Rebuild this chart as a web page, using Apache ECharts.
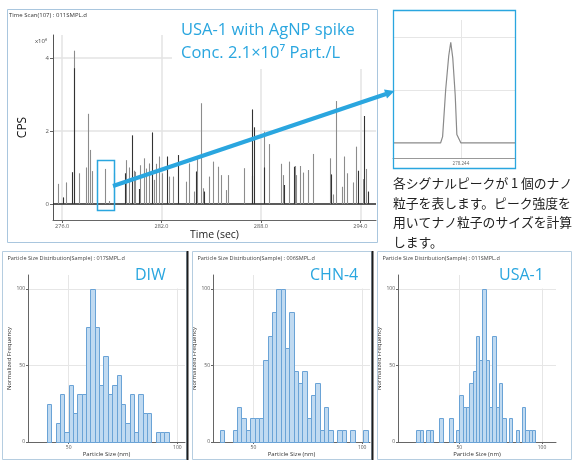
<!DOCTYPE html>
<html><head><meta charset="utf-8">
<script src="https://cdn.jsdelivr.net/npm/echarts@6/dist/echarts.min.js"></script>
<style>html,body{margin:0;padding:0;background:#fff}#c{width:574px;height:460px}</style>
</head><body><div id="c"></div><script>
// ================= DATA =================
const scanTitle = 'Time Scan(107) : 011SMPL.d';
const scanHeadline1 = 'USA-1 with AgNP spike';
const scanHeadline2 = 'Conc. 2.1×10⁷ Part./L';
const timeTicks = [276, 282, 288, 294];
const cpsTicks = [0, 2, 4];
// spike arrival time (s), intensity (x10^6 CPS), tone (0 = grey, 1 = dark)
const spikeTime = [275.78,276.08,276.22,276.62,276.74,276.74,277.03,277.43,277.55,277.71,277.83,278.61,278.83,279.16,279.80,279.86,280.04,280.20,280.36,280.42,280.66,280.72,280.92,281.07,281.27,281.45,281.55,281.65,281.83,282.05,282.33,282.43,282.68,283.00,283.50,283.64,283.94,284.08,284.12,284.36,284.48,284.56,284.86,285.11,285.43,285.57,285.87,286.01,286.96,287.44,287.46,287.60,288.17,288.21,288.47,289.19,289.35,289.41,289.68,289.98,290.04,290.12,290.34,290.56,290.84,291.14,292.17,292.23,292.33,292.51,292.87,292.99,293.22,293.56,293.74,293.88,294.14,294.22,294.34,294.44];
const spikeCps  = [0.55,0.18,0.59,0.87,4.20,3.72,0.84,1.00,2.47,1.48,0.90,0.96,0.08,0.84,0.84,1.20,1.00,1.88,0.91,0.88,0.41,1.06,1.25,0.97,1.11,1.96,0.66,1.10,1.30,0.84,1.30,0.75,0.75,1.34,0.61,1.11,0.34,0.89,1.30,2.76,0.43,0.34,0.75,1.16,1.02,0.79,0.38,0.79,0.98,2.59,0.77,2.10,1.98,1.00,1.64,1.10,0.79,0.52,1.16,1.02,1.04,0.79,1.04,0.86,0.93,1.37,1.25,0.81,0.26,2.82,0.47,1.30,0.84,0.59,1.57,0.91,0.68,2.41,0.96,0.34];
const spikeTone = [0,1,0,1,0,1,0,0,0,0,0,0,0,0,1,0,0,1,0,0,1,0,0,0,0,1,0,0,0,0,1,0,0,1,0,0,0,1,0,0,0,1,0,0,0,0,0,0,0,1,1,1,0,1,0,0,0,1,0,1,0,0,0,0,0,0,0,1,0,0,0,0,0,0,0,1,0,1,0,1];

// single particle peak (zoomed)
const insetTick = [278.244];
const insetTime = [278.24066,278.2412,278.24170,278.24178,278.24186,278.2424,278.2428,278.2430,278.2431,278.24325,278.2434,278.2435,278.2436,278.24372,278.2438,278.2440,278.2450,278.24580,278.24587,278.24594,278.24666];
const insetCps  = [0.00,0.00,0.00,0.015,0.00,0.00,0.00,0.00,0.06,0.50,0.82,0.95,0.80,0.45,0.08,0.00,0.00,0.00,0.012,0.00,0.00];
const insetGrid = [0.5, 1.0];

const sizeTicks = [50, 100];
const freqTicks = [0, 50, 100];
const binWidth = 2;
const diwStart = [40,42,44,46,48,50,52,54,56,58,60,62,64,66,68,70,72,74,76,78,80,82,84,86,88,90,92,94];
const diwFreq  = [25,0,12.5,31.25,6.25,37.5,18.75,31.25,31.25,75,100,75,37.5,56.25,31.25,37.5,43.75,25,12.5,31.25,6.25,31.25,18.75,18.75,0,6.25,6.25,6.25];
const chnStart = [34.5,36.5,38.5,40.5,42.5,44.5,46.5,48.5,50.5,52.5,54.5,56.5,58.5,60.5,62.5,64.5,66.5,68.5,70.5,72.5,74.5,76.5,78.5,80.5,82.5,84.5,86.5,88.5,90.5,92.5,94.5,96.5,98.5,100.5];
const chnFreq  = [7.7,0,0,7.7,23.1,15.4,7.7,15.4,15.4,15.4,53.8,69.2,84.6,100,100,61.5,84.6,46.2,38.5,46.2,15.4,30.8,38.5,7.7,23.1,7.7,0,7.7,7.7,0,7.7,0,0,7.7];
const usaStart = [24,26,28,30,32,34,36,38,40,42,44,46,48,50,52,54,56,58,60,62,64,66,68,70,72,74,76,78,80,82,84,86,88,90,92,94];
const usaFreq  = [7.7,7.7,0,7.7,7.7,0,0,15.4,0,0,15.4,0,7.7,30.8,23.1,23.1,38.5,46.2,69.2,53.8,100,53.8,23.1,69.2,23.1,38.5,15.4,0,15.4,0,7.7,0,23.1,7.7,7.7,7.7];
const panelTitles = ['Particle Size Distribution(Sample) : 017SMPL.d','Particle Size Distribution(Sample) : 006SMPL.d','Particle Size Distribution(Sample) : 011SMPL.d'];
const panelLabels = ['DIW','CHN-4','USA-1'];
const noteLines = ['各シグナルピークが 1 個のナノ','粒子を表します。ピーク強度を','用いてナノ粒子のサイズを計算','します。'];

// ================= CHART =================
const BLUE = '#2aa6df';
const LAT = '"Open Sans", "Noto Sans", sans-serif';
const chart = echarts.init(document.getElementById('c'), null, {renderer: 'canvas'});

const timeMin = 275.45, timeMax = 294.95;

function histAxes(gi, min, max) {
  return {
    x: {
      type: 'value', gridIndex: gi, min: min, max: max,
      name: 'Particle Size (nm)', nameLocation: 'middle', nameGap: 6,
      nameTextStyle: {fontSize: 6, color: '#333', fontFamily: LAT},
      axisLine: {show: true, lineStyle: {color: '#666', width: 1}},
      axisTick: {show: true, length: 2, customValues: sizeTicks, lineStyle: {color: '#666'}},
      axisLabel: {customValues: sizeTicks, fontSize: 5, color: '#555', margin: 3, fontFamily: LAT},
      splitLine: {show: true, lineStyle: {color: '#e6e6e6', width: 1}}
    },
    y: {
      type: 'value', gridIndex: gi, min: 0, max: 109,
      name: 'Normalized Frequency', nameLocation: 'middle', nameGap: 12,
      nameTextStyle: {fontSize: 6, color: '#333', fontFamily: LAT},
      axisLine: {show: true, lineStyle: {color: '#666', width: 1}},
      axisTick: {show: true, length: 2, customValues: freqTicks, lineStyle: {color: '#666'}},
      axisLabel: {customValues: freqTicks, fontSize: 5, color: '#555', margin: 3, fontFamily: LAT},
      splitLine: {show: true, lineStyle: {color: '#e6e6e6', width: 1}}
    }
  };
}
const h1 = histAxes(2, 31.3, 103.5), h2 = histAxes(3, 31.4, 103.6), h3 = histAxes(4, 12.9, 108.5);

function histSeries(idx, starts, freqs) {
  return {
    type: 'custom', xAxisIndex: idx, yAxisIndex: idx, silent: true,
    data: starts.map((s, i) => [s, freqs[i]]),
    encode: {x: 0, y: 1},
    renderItem: function (params, api) {
      const s = api.value(0), v = api.value(1);
      if (!v) return null;
      const p0 = api.coord([s, v]), p1 = api.coord([s + binWidth, 0]);
      return {type: 'rect',
        shape: {x: Math.round(p0[0]) + 0.5, y: Math.round(p0[1]) + 0.5, width: Math.round(p1[0]) - Math.round(p0[0]), height: Math.round(p1[1]) - Math.round(p0[1])},
        style: {fill: '#c0daf1', stroke: '#6aa3d6', lineWidth: 1}};
    }
  };
}

const graphics = [];
// top panel frame & titles
graphics.push({type: 'rect', z: 1, shape: {x: 7.5, y: 9.5, width: 370, height: 233}, style: {fill: 'none', stroke: '#a9c6de', lineWidth: 1}});
graphics.push({type: 'text', z: 20, x: 9, y: 15, style: {text: scanTitle, fontSize: 6, fill: '#333', fontFamily: LAT, verticalAlign: 'middle'}});
graphics.push({type: 'rect', z: 10, shape: {x: 172, y: 17, width: 204, height: 52}, style: {fill: '#fff'}});
graphics.push({type: 'text', z: 20, x: 181, y: 30, style: {text: scanHeadline1, fontSize: 16.5, fill: BLUE, fontFamily: LAT, verticalAlign: 'middle'}});
graphics.push({type: 'text', z: 20, x: 181, y: 53, style: {text: scanHeadline2, fontSize: 16.5, fill: BLUE, fontFamily: LAT, verticalAlign: 'middle'}});
graphics.push({type: 'text', z: 20, x: 47, y: 41, style: {text: 'x10⁶', fontSize: 6, fill: '#444', fontFamily: LAT, align: 'right', verticalAlign: 'middle'}});
// highlight box and arrow
graphics.push({type: 'rect', z: 40, shape: {x: 97.5, y: 160.5, width: 17, height: 50}, style: {fill: 'none', stroke: BLUE, lineWidth: 1.5}});
graphics.push({type: 'line', z: 40, shape: {x1: 113, y1: 186, x2: 386, y2: 94}, style: {stroke: BLUE, lineWidth: 4}});
graphics.push({type: 'polygon', z: 40, shape: {points: [[394.5, 91], [387, 98.5], [384, 89.5]]}, style: {fill: BLUE}});
// inset frame
graphics.push({type: 'rect', z: 30, shape: {x: 393.5, y: 10.5, width: 122, height: 158}, style: {fill: 'none', stroke: BLUE, lineWidth: 1.3}});
// note text
noteLines.forEach((t, i) => graphics.push({type: 'text', z: 20, x: 393, y: 183.5 + i * 19.5,
  style: {text: t, fontSize: 12.8, fill: '#222', fontFamily: '"Noto Sans CJK JP", sans-serif', verticalAlign: 'middle'}}));
// bottom panels
const panelX = [2.5, 192.5, 377.5], panelW = [184, 179, 194];
const labelBox = [[125, 61], [300, 71], [488, 83]];
const labelX = [135, 310, 499];
for (let i = 0; i < 3; i++) {
  graphics.push({type: 'rect', z: 1, shape: {x: panelX[i], y: 251.5, width: panelW[i], height: 208}, style: {fill: 'none', stroke: '#b5cde0', lineWidth: 1}});
  graphics.push({type: 'text', z: 20, x: panelX[i] + 5, y: 258, style: {text: panelTitles[i], fontSize: 5.5, fill: '#444', fontFamily: LAT, verticalAlign: 'middle'}});
  graphics.push({type: 'rect', z: 10, shape: {x: labelBox[i][0], y: 262, width: labelBox[i][1], height: 26.5}, style: {fill: '#fff'}});
  graphics.push({type: 'text', z: 20, x: labelX[i], y: 275, style: {text: panelLabels[i], fontSize: 16, fill: BLUE, fontFamily: LAT, verticalAlign: 'middle'}});
}
graphics.push({type: 'rect', z: 25, shape: {x: 186.5, y: 251, width: 2, height: 209}, style: {fill: '#1d1d1d'}});
graphics.push({type: 'rect', z: 25, shape: {x: 371.5, y: 251, width: 2, height: 209}, style: {fill: '#1d1d1d'}});

const option = {
  backgroundColor: '#fff',
  animation: false,
  textStyle: {fontFamily: LAT},
  grid: [
    {left: 53, top: 35, width: 323, height: 185},
    {left: 393, top: 20, width: 122, height: 138},
    {left: 28, top: 275, width: 157, height: 167},
    {left: 213, top: 275, width: 157, height: 167},
    {left: 398, top: 275, width: 158, height: 167}
  ],
  xAxis: [
    {type: 'value', gridIndex: 0, min: timeMin, max: timeMax,
      name: 'Time (sec)', nameLocation: 'middle', nameGap: 6,
      nameTextStyle: {fontSize: 10.5, color: '#222', fontFamily: LAT},
      axisLine: {show: true, onZero: false, lineStyle: {color: '#666', width: 1}},
      axisTick: {show: true, length: 3, customValues: timeTicks, lineStyle: {color: '#666'}},
      axisLabel: {customValues: timeTicks, fontSize: 5.5, color: '#555', margin: 3, formatter: v => v.toFixed(1)},
      splitLine: {show: true, lineStyle: {color: '#e3e3e3', width: 1.5}}},
    {type: 'value', gridIndex: 1, min: 278.24066, max: 278.24666,
      axisLine: {show: true, onZero: false, lineStyle: {color: '#999', width: 1}},
      axisTick: {show: false, customValues: insetTick},
      axisLabel: {customValues: insetTick, fontSize: 4.5, color: '#666', margin: 3, formatter: v => v.toFixed(3)},
      splitLine: {show: true, lineStyle: {color: '#e6e6e6', width: 1}}},
    h1.x, h2.x, h3.x
  ],
  yAxis: [
    {type: 'value', gridIndex: 0, min: -0.44, max: 4.63,
      name: 'CPS', nameLocation: 'middle', nameGap: 24,
      nameTextStyle: {fontSize: 12, color: '#111', fontFamily: LAT},
      axisLine: {show: true, lineStyle: {color: '#555', width: 1}},
      axisTick: {show: true, length: 3, customValues: cpsTicks, lineStyle: {color: '#666'}},
      axisLabel: {customValues: cpsTicks, fontSize: 6, color: '#555', margin: 4},
      splitLine: {show: true, lineStyle: {color: '#e3e3e3', width: 1.5}}},
    {type: 'value', gridIndex: 1, min: -0.142, max: 1.16,
      axisLine: {show: false}, axisTick: {show: false, customValues: insetGrid},
      axisLabel: {show: false, customValues: insetGrid},
      splitLine: {show: true, lineStyle: {color: '#e6e6e6', width: 1}}},
    h1.y, h2.y, h3.y
  ],
  series: [
    {type: 'line', xAxisIndex: 0, yAxisIndex: 0, silent: true, symbol: 'none',
      data: [[timeMin, 0], [timeMax, 0]], lineStyle: {color: '#2b2b2b', width: 1.6}, z: 3},
    {type: 'custom', xAxisIndex: 0, yAxisIndex: 0, silent: true, z: 4,
      data: spikeTime.map((t, i) => [t, spikeCps[i], spikeTone[i]]),
      encode: {x: 0, y: 1},
      renderItem: function (params, api) {
        const a = api.coord([api.value(0), 0]), b = api.coord([api.value(0), api.value(1)]);
        const x = Math.round(a[0]) + 0.5;
        const dark = api.value(2) === 1;
        return {type: 'line', z2: dark ? 2 : 1, shape: {x1: x, y1: a[1], x2: x, y2: b[1]},
          style: {stroke: dark ? '#333333' : '#8c8c8c', lineWidth: 1.1}};
      }},
    {type: 'line', xAxisIndex: 1, yAxisIndex: 1, silent: true, symbol: 'none',
      data: insetTime.map((t, i) => [t, insetCps[i]]), lineStyle: {color: '#8a8a8a', width: 1.2}},
    histSeries(2, diwStart, diwFreq),
    histSeries(3, chnStart, chnFreq),
    histSeries(4, usaStart, usaFreq)
  ],
  graphic: {elements: graphics}
};
chart.setOption(option);
</script></body></html>
